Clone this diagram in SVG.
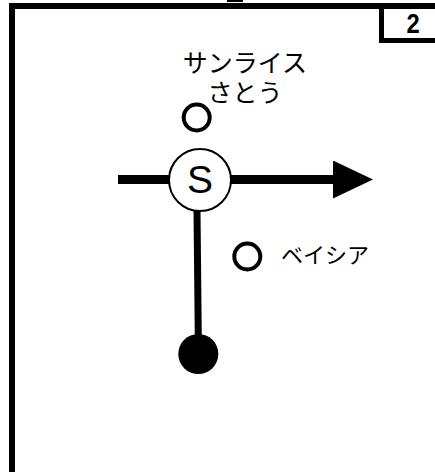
<svg xmlns="http://www.w3.org/2000/svg" width="435" height="472" viewBox="0 0 435 472">
<style>
.lbl{font-family:"Noto Sans CJK JP","Noto Sans",sans-serif;font-size:25px;fill:#000}
.stop{fill:#fff;stroke:#000;stroke-width:4}
.line{stroke:#000;fill:none}
</style>
<defs>
<marker id="ah" markerWidth="40" markerHeight="38" refX="0" refY="19" orient="auto" markerUnits="userSpaceOnUse">
<path d="M0,0 L40,19 L0,38 Z" fill="#000"/>
</marker>
</defs>
<rect width="435" height="472" fill="#fff"/>
<g id="frame">
<path d="M12,472 V6 H435" class="line" stroke-width="6"/>
<rect x="227" y="-2" width="16" height="4" fill="#000"/>
</g>
<g id="page-number">
<path d="M381.5,6 V40.5 H435" class="line" stroke-width="5"/>
<text transform="translate(413,33) scale(0.85,1)" text-anchor="middle" style="font-family:'Liberation Sans',sans-serif;font-weight:bold;font-size:28px">2</text>
</g>
<g id="connectors">
<line x1="118" y1="179.5" x2="170" y2="179.5" class="line" stroke-width="9"/>
<line x1="230" y1="179.5" x2="333" y2="179.5" class="line" stroke-width="9" marker-end="url(#ah)"/>
<line x1="197" y1="210" x2="198.3" y2="340" class="line" stroke-width="7"/>
</g>
<g id="station-S">
<circle cx="200" cy="180" r="31" fill="#fff" stroke="#000" stroke-width="2"/>
<text x="200" y="193" text-anchor="middle" style="font-family:'Liberation Sans',Arial,sans-serif;font-size:39px">S</text>
</g>
<g id="end-point">
<circle cx="198.3" cy="354" r="20" fill="#000"/>
</g>
<g id="stop-sunrise">
<circle cx="196.7" cy="117.5" r="13" class="stop"/>
<text text-anchor="middle" class="lbl"><tspan x="245" y="72">サンライス</tspan><tspan x="245" y="102">さとう</tspan></text>
</g>
<g id="stop-beisia">
<circle cx="247.3" cy="256.5" r="13" class="stop"/>
<text x="281" y="263" class="lbl" style="font-size:22px">ベイシア</text>
</g>
</svg>
